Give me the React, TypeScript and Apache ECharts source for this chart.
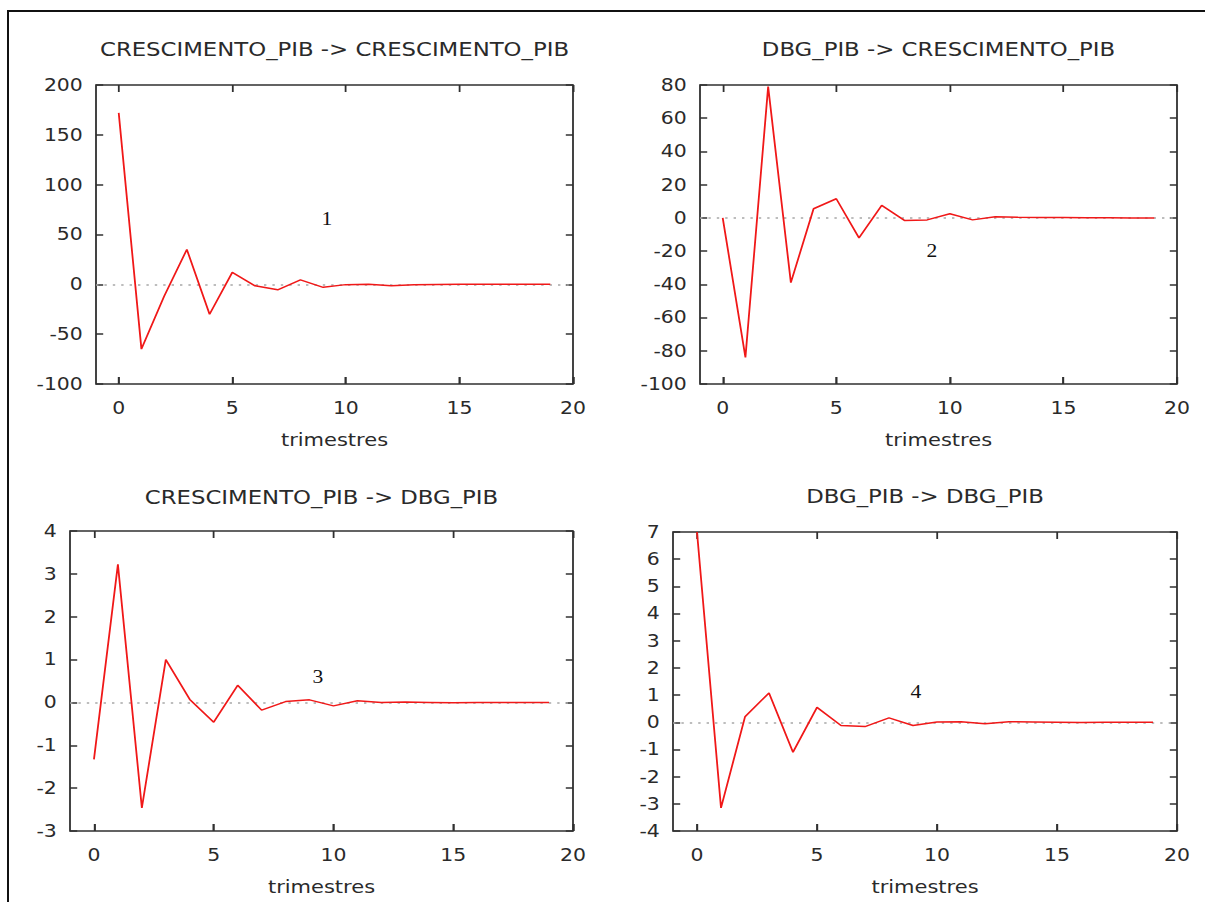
import React, { useEffect, useRef } from "react";
import * as echarts from "echarts";

// ---- data ----
const trimestres = [0, 1, 2, 3, 4, 5, 6, 7, 8, 9, 10, 11, 12, 13, 14, 15, 16, 17, 18, 19];
const xTickValues = [0, 5, 10, 15, 20];

const titles = [
  "CRESCIMENTO_PIB -> CRESCIMENTO_PIB",
  "DBG_PIB -> CRESCIMENTO_PIB",
  "CRESCIMENTO_PIB -> DBG_PIB",
  "DBG_PIB -> DBG_PIB",
];
const panelLabels = ["1", "2", "3", "4"];

const crescToCresc = [172, -65, -12, 35, -30, 12, -1.5, -5.5, 4.5, -3, -0.3, 0.2, -1.5, -0.4, -0.2, 0, 0.1, 0, 0, 0];
const dbgToCresc = [0, -84, 79, -39, 5.5, 11.5, -12, 7.5, -1.5, -1.2, 2.5, -1.2, 0.7, 0.4, 0.2, 0.3, 0.1, 0.1, 0, 0];
const crescToDbg = [-1.33, 3.22, -2.46, 1.0, 0.07, -0.46, 0.4, -0.18, 0.02, 0.06, -0.08, 0.04, 0.0, 0.01, 0, -0.01, 0, 0, 0, 0];
const dbgToDbg = [7.0, -3.15, 0.2, 1.08, -1.1, 0.55, -0.12, -0.16, 0.16, -0.12, 0.01, 0.02, -0.05, 0.02, 0.01, 0, -0.01, 0, 0, 0];

const seriesValues = [crescToCresc, dbgToCresc, crescToDbg, dbgToDbg];
const yMins = [-100, -100, -3, -4];
const yMaxs = [200, 80, 4, 7];
const yIntervals = [50, 20, 1, 1];
const xMin = -1;
const xMax = 20;

// ---- layout (reference pixel space; horizontally stretched) ----
const S = 1.2;
const W = 1205;
const H = 902;
const TICK = 7;
const plots = [
  { l: 96, r: 573, t: 85, b: 384, titleY: 50, lab: [327, 219] },
  { l: 700, r: 1177, t: 85, b: 384, titleY: 50, lab: [932, 251] },
  { l: 70, r: 573, t: 531, b: 831, titleY: 498, lab: [318, 677] },
  { l: 673, r: 1177, t: 532, b: 831, titleY: 497, lab: [916, 692] },
];

const SANS = "'DejaVu Sans', Verdana, sans-serif";
const SERIF = "'Liberation Serif', 'Times New Roman', serif";
const TEXT = "#2a2a2a";
const FRAME = "#303030";

export default function App() {
  const ref = useRef<HTMLDivElement>(null);

  useEffect(() => {
    if (!ref.current) return;
    const chart = echarts.init(ref.current, null, { renderer: "svg" });

    const grid: any[] = [];
    const xAxis: any[] = [];
    const yAxis: any[] = [];
    const series: any[] = [];
    const title: any[] = [];

    plots.forEach((p, i) => {
      grid.push({
        left: p.l / S,
        top: p.t,
        width: (p.r - p.l) / S,
        height: p.b - p.t,
        show: true,
        borderColor: FRAME,
        borderWidth: 1.5,
        backgroundColor: "transparent",
        containLabel: false,
      });
      const tickStyle = { color: FRAME, width: 1.5 };
      const noLine = { show: false, onZero: false };
      xAxis.push({
        type: "value",
        gridIndex: i,
        min: xMin,
        max: xMax,
        position: "bottom",
        axisLine: noLine,
        splitLine: { show: false },
        axisTick: { show: true, inside: true, length: TICK, customValues: xTickValues, lineStyle: tickStyle },
        axisLabel: { customValues: xTickValues, margin: 16, fontSize: 17, color: TEXT, fontFamily: SANS },
        name: "trimestres",
        nameLocation: "middle",
        nameGap: 47,
        nameTextStyle: { fontSize: 17.5, color: TEXT, fontFamily: SANS },
      });
      yAxis.push({
        type: "value",
        gridIndex: i,
        min: yMins[i],
        max: yMaxs[i],
        interval: yIntervals[i],
        position: "left",
        axisLine: noLine,
        splitLine: { show: false },
        axisTick: { show: true, inside: true, length: 6, lineStyle: tickStyle },
        axisLabel: { margin: 11, fontSize: 17, color: TEXT, fontFamily: SANS, showMinLabel: true, showMaxLabel: true },
      });
      yAxis.push({
        type: "value",
        gridIndex: i,
        min: yMins[i],
        max: yMaxs[i],
        interval: yIntervals[i],
        position: "right",
        axisLine: noLine,
        splitLine: { show: false },
        axisTick: { show: true, inside: true, length: 6, lineStyle: tickStyle },
        axisLabel: { show: false },
      });

      // inward x tick marks on bottom and top frame edges, placed at the axis tick values
      const tickLen = (TICK * (yMaxs[i] - yMins[i])) / (p.b - p.t);
      const tickMarks: any[] = [];
      xTickValues.forEach((v) => {
        tickMarks.push([
          { coord: [v, yMins[i]], lineStyle: { type: "solid", color: FRAME, width: 1.5 } },
          { coord: [v, yMins[i] + tickLen] },
        ]);
        tickMarks.push([
          { coord: [v, yMaxs[i]], lineStyle: { type: "solid", color: FRAME, width: 1.5 } },
          { coord: [v, yMaxs[i] - tickLen] },
        ]);
      });

      series.push({
        type: "line",
        xAxisIndex: i,
        yAxisIndex: 2 * i,
        data: seriesValues[i].map((v, k) => [trimestres[k], v]),
        showSymbol: false,
        symbol: "none",
        lineStyle: { color: "#f01818", width: 1.5 },
        z: 3,
        markLine: {
          silent: true,
          symbol: ["none", "none"],
          label: { show: false },
          lineStyle: { type: [2, 5], color: "#a8a8a8", width: 1.6 },
          data: [{ yAxis: 0 }, ...tickMarks],
          z: 2,
        },
      });

      title.push({
        text: titles[i],
        left: (p.l + p.r) / 2 / S,
        top: p.titleY,
        textAlign: "center",
        textVerticalAlign: "middle",
        padding: 0,
        textStyle: { fontFamily: SANS, fontSize: 19, fontWeight: "normal", color: TEXT },
      });
      title.push({
        text: panelLabels[i],
        left: p.lab[0] / S,
        top: p.lab[1],
        textAlign: "center",
        textVerticalAlign: "middle",
        padding: 0,
        textStyle: { fontFamily: SERIF, fontSize: 18, fontWeight: "normal", color: "#111" },
      });
    });

    chart.setOption({
      animation: false,
      backgroundColor: "#ffffff",
      title,
      grid,
      xAxis,
      yAxis,
      series,
    });

    return () => chart.dispose();
  }, []);

  return (
    <div style={{ position: "absolute", left: 0, top: 0, width: W, height: H, background: "#fff", overflow: "hidden" }}>
      <div
        ref={ref}
        style={{
          position: "absolute",
          left: 0,
          top: 0,
          width: W / S,
          height: H,
          transform: `scaleX(${S})`,
          transformOrigin: "0 0",
        }}
      />
      <div
        style={{
          position: "absolute",
          left: 7,
          top: 10,
          width: W - 7,
          height: H - 10,
          borderTop: "2px solid #111",
          borderLeft: "2px solid #111",
          boxSizing: "border-box",
          pointerEvents: "none",
        }}
      />
    </div>
  );
}
